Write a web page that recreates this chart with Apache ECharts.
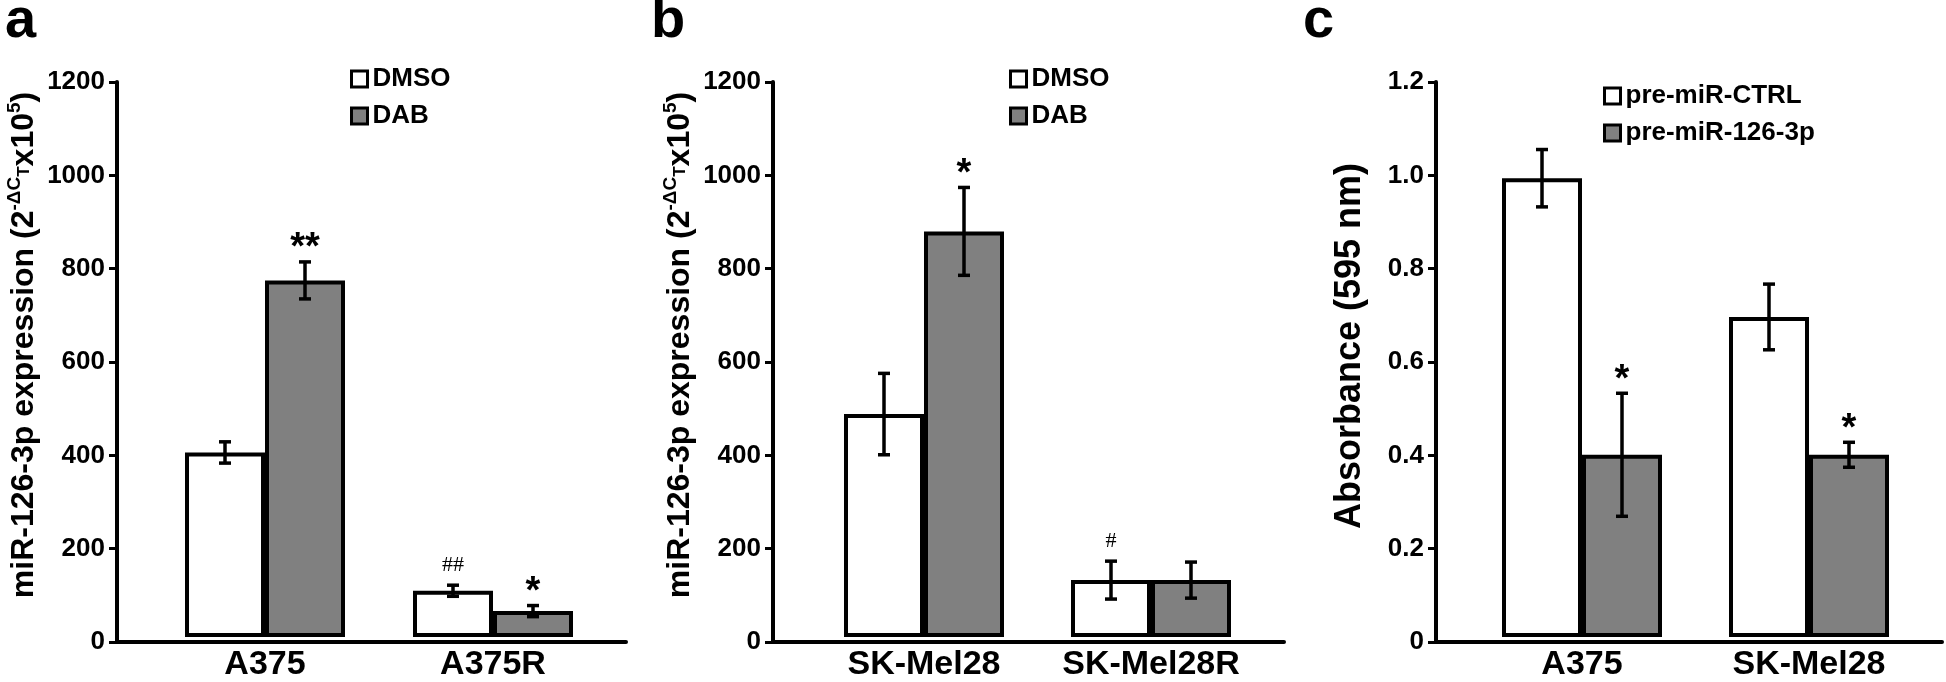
<!DOCTYPE html>
<html>
<head>
<meta charset="utf-8">
<script src="https://cdn.jsdelivr.net/npm/echarts@6/dist/echarts.min.js"></script>
<style>
html,body{margin:0;padding:0;background:#fff;}
#chart{width:1946px;height:682px;}
</style>
</head>
<body>
<div id="chart"></div>
<script>
// ---------- DATA ----------
// Panel a
const categoriesA = ['A375', 'A375R'];
const dmsoA = [399, 100];
const dmsoErrA = [23, 12];
const dmsoSigA = ['', '##'];
const dabA = [771, 56];
const dabErrA = [40, 12];
const dabSigA = ['**', '*'];
// Panel b
const categoriesB = ['SK-Mel28', 'SK-Mel28R'];
const dmsoB = [482, 123];
const dmsoErrB = [88, 41];
const dmsoSigB = ['', '#'];
const dabB = [877, 123];
const dabErrB = [95, 39];
const dabSigB = ['*', ''];
// Panel c
const categoriesC = ['A375', 'SK-Mel28'];
const ctrlC = [0.992, 0.692];
const ctrlErrC = [0.062, 0.071];
const ctrlSigC = ['', ''];
const premiC = [0.394, 0.394];
const premiErrC = [0.133, 0.027];
const premiSigC = ['*', '*'];
// Axis ticks
const yTicksAB = {min: 0, max: 1200, interval: 200};
const yTicksC = {min: 0, max: 1.2, interval: 0.2};
const seriesNamesAB = ['DMSO', 'DAB'];
const seriesNamesC = ['pre-miR-CTRL', 'pre-miR-126-3p'];
const panelLetters = ['a', 'b', 'c'];

// ---------- STYLE ----------
const FONT = '"Liberation Sans", Arial, Helvetica, sans-serif';
const BAR_W = 80;
const WHITE = '#ffffff';
const GRAY = '#808080';
const TOP = 82, H = 560;

const chart = echarts.init(document.getElementById('chart'), null, {renderer: 'canvas'});

function frameGrid(left, width) {
  return {left: left, top: TOP, width: width, height: H, containLabel: false};
}

function frameX(gi) {
  return {
    type: 'value', gridIndex: gi, min: 0, max: 1,
    axisLine: {show: true, onZero: false, lineStyle: {color: '#000', width: 4}},
    axisTick: {show: false}, axisLabel: {show: false}, splitLine: {show: false}
  };
}

function frameY(gi, ticks, name, nameStyle, nameGap, fmt) {
  return {
    type: 'value', gridIndex: gi, min: ticks.min, max: ticks.max, interval: ticks.interval,
    axisLine: {show: true, lineStyle: {color: '#000', width: 4}},
    axisTick: {show: true, inside: false, length: 8, lineStyle: {color: '#000', width: 3}},
    axisLabel: {show: true, margin: 12, color: '#000', fontFamily: FONT, fontWeight: 'bold', fontSize: 26,
                padding: [0, 0, 10, 0], formatter: fmt},
    splitLine: {show: false},
    name: name, nameLocation: 'middle', nameRotate: 90, nameGap: nameGap,
    nameTextStyle: nameStyle
  };
}

function barX(gi, cats) {
  return {
    type: 'category', gridIndex: gi, data: cats,
    axisLine: {show: false}, axisTick: {show: false},
    axisLabel: {show: true, margin: 11, color: '#000', fontFamily: FONT, fontWeight: 'bold', fontSize: 34, interval: 0}
  };
}

function barY(gi, ticks) {
  return {type: 'value', gridIndex: gi, min: ticks.min, max: ticks.max, show: false, splitLine: {show: false}};
}

function barSeries(name, gi, data, fill) {
  return {
    type: 'bar', name: name, xAxisIndex: gi, yAxisIndex: gi, data: data,
    barWidth: BAR_W, barGap: '0%',
    itemStyle: {color: fill, borderColor: '#000', borderWidth: 4},
    emphasis: {disabled: true}, silent: true, z: 2
  };
}

function errSeries(gi, vals, errs, sigs, side) {
  const data = vals.map((v, i) => [i, v, errs[i]]);
  return {
    type: 'custom', xAxisIndex: gi, yAxisIndex: gi, data: data, z: 5, silent: true,
    renderItem: function (params, api) {
      const c = api.value(0), v = api.value(1), e = api.value(2);
      const x = api.coord([c, v])[0] + side * BAR_W / 2;
      const yTop = api.coord([c, v + e])[1];
      const yBot = api.coord([c, v - e])[1];
      const cap = 6;
      const ls = {stroke: '#000', lineWidth: 3.5};
      const children = [
        {type: 'line', shape: {x1: x, y1: yTop, x2: x, y2: yBot}, style: ls},
        {type: 'line', shape: {x1: x - cap, y1: yTop, x2: x + cap, y2: yTop}, style: ls},
        {type: 'line', shape: {x1: x - cap, y1: yBot, x2: x + cap, y2: yBot}, style: ls}
      ];
      const s = sigs[params.dataIndex];
      if (s) {
        const isHash = s.indexOf('#') >= 0;
        children.push({
          type: 'text',
          style: {
            text: s, x: x, y: yTop - (isHash ? 20 : 13),
            align: 'center', verticalAlign: 'middle', fill: '#000',
            font: isHash ? 'normal 22px "Liberation Serif", "Times New Roman", serif'
                         : 'bold 38px ' + FONT
          }
        });
      }
      return {type: 'group', children: children};
    }
  };
}

const nameStyleAB = {
  color: '#000', fontFamily: FONT, fontWeight: 'bold', fontSize: 32, lineHeight: 38,
  padding: [0, 0, 0, 34],
  rich: {
    sup: {fontFamily: FONT, fontWeight: 'bold', fontSize: 19, color: '#000', verticalAlign: 'top', lineHeight: 38},
    sub: {fontFamily: FONT, fontWeight: 'bold', fontSize: 17, color: '#000', verticalAlign: 'middle', lineHeight: 32}
  }
};
const nameAB = 'miR-126-3p expression (2{sup|-ΔC}{sub|T}x10{sup|5})';
const nameStyleC = {color: '#000', fontFamily: FONT, fontWeight: 'bold', fontSize: 36, padding: [0, 0, 0, 32]};

function legend(left, top, names) {
  return {
    left: left, top: top, orient: 'vertical', itemWidth: 16, itemHeight: 16, itemGap: 11,
    padding: 0, icon: 'rect', data: names, selectedMode: false,
    itemStyle: {borderColor: '#000', borderWidth: 3},
    textStyle: {color: '#000', fontFamily: FONT, fontWeight: 'bold', fontSize: 26, lineHeight: 26}
  };
}

const intFmt = v => String(v);
const decFmt = v => (v === 0 ? '0' : v.toFixed(1));

const option = {
  backgroundColor: '#fff',
  animation: false,
  title: panelLetters.map((t, i) => ({
    text: t, left: [5, 651, 1303][i], top: -6, padding: 0,
    textStyle: {color: '#000', fontFamily: FONT, fontWeight: 'bold', fontSize: 56}
  })),
  legend: [
    legend(350, 66, seriesNamesAB),
    legend(1009, 66, seriesNamesAB),
    legend(1603, 83, seriesNamesC)
  ],
  grid: [
    frameGrid(117, 509), frameGrid(151, 456),
    frameGrid(773, 511), frameGrid(810.5, 454),
    frameGrid(1436, 506), frameGrid(1468.5, 454)
  ],
  xAxis: [
    frameX(0), barX(1, categoriesA),
    frameX(2), barX(3, categoriesB),
    frameX(4), barX(5, categoriesC)
  ],
  yAxis: [
    frameY(0, yTicksAB, nameAB, nameStyleAB, 72, intFmt), barY(1, yTicksAB),
    frameY(2, yTicksAB, nameAB, nameStyleAB, 72, intFmt), barY(3, yTicksAB),
    frameY(4, yTicksC, 'Absorbance (595 nm)', nameStyleC, 68, decFmt), barY(5, yTicksC)
  ],
  series: [
    barSeries(seriesNamesAB[0], 1, dmsoA, WHITE),
    barSeries(seriesNamesAB[1], 1, dabA, GRAY),
    errSeries(1, dmsoA, dmsoErrA, dmsoSigA, -1),
    errSeries(1, dabA, dabErrA, dabSigA, 1),
    barSeries(seriesNamesAB[0], 3, dmsoB, WHITE),
    barSeries(seriesNamesAB[1], 3, dabB, GRAY),
    errSeries(3, dmsoB, dmsoErrB, dmsoSigB, -1),
    errSeries(3, dabB, dabErrB, dabSigB, 1),
    barSeries(seriesNamesC[0], 5, ctrlC, WHITE),
    barSeries(seriesNamesC[1], 5, premiC, GRAY),
    errSeries(5, ctrlC, ctrlErrC, ctrlSigC, -1),
    errSeries(5, premiC, premiErrC, premiSigC, 1)
  ]
};
chart.setOption(option);
</script>
</body>
</html>
